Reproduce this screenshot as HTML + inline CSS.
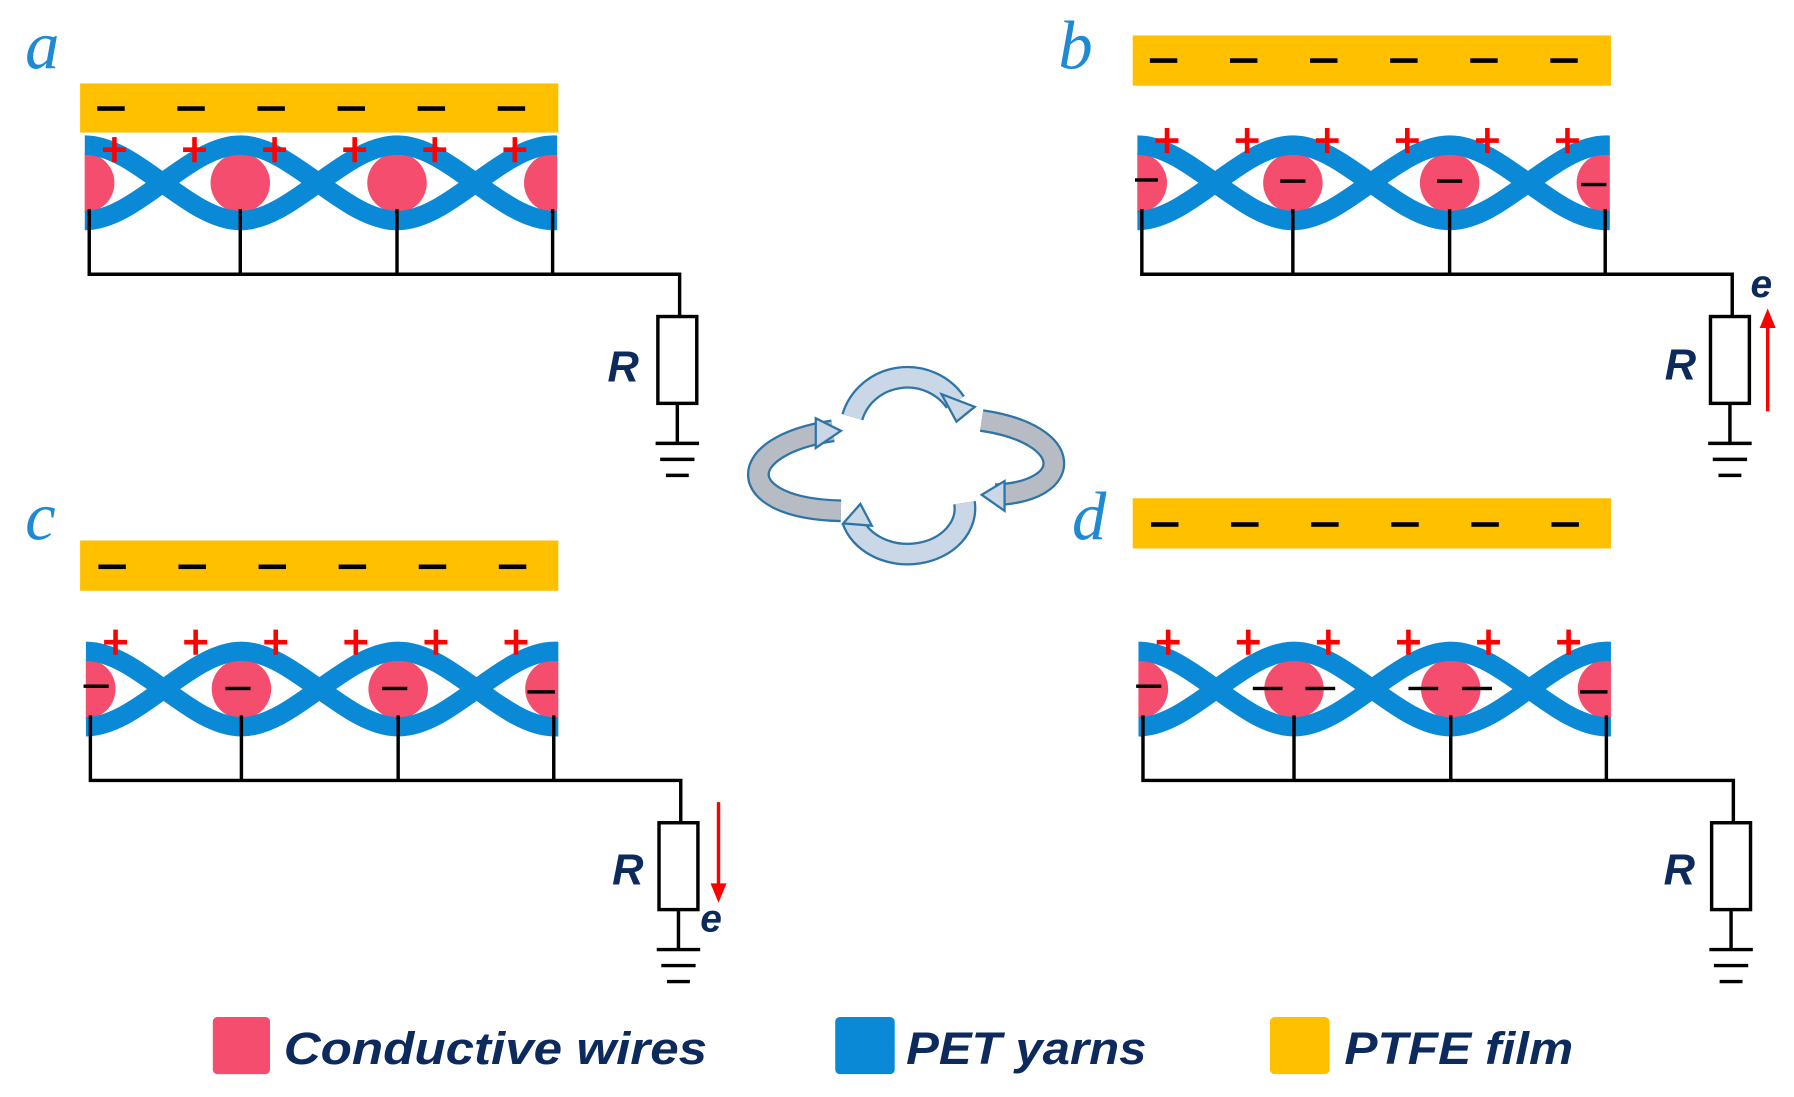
<!DOCTYPE html>
<html><head><meta charset="utf-8"><style>html,body{margin:0;padding:0;background:#fff}svg{display:block}</style></head>
<body>
<svg width="1794" height="1097" viewBox="0 0 1568 960" preserveAspectRatio="none" xmlns="http://www.w3.org/2000/svg">
<defs>
<g id="weave">
  <clipPath id="cp"><rect x="74" y="100" width="413" height="120"/></clipPath>
  <g clip-path="url(#cp)">
    <circle cx="74" cy="160" r="26" fill="#f44d6d"/>
    <circle cx="210" cy="160" r="26" fill="#f44d6d"/>
    <circle cx="347" cy="160" r="26" fill="#f44d6d"/>
    <circle cx="484" cy="160" r="26" fill="#f44d6d"/>
    <path d="M74,127 C119,127 165,193 210,193 S301,127 347,127 S438,193 484,193 S560,127 600,127" fill="none" stroke="#0a8ad6" stroke-width="17"/>
    <path d="M74,193 C119,193 165,127 210,127 S301,193 347,193 S438,127 484,127 S560,193 600,193" fill="none" stroke="#0a8ad6" stroke-width="17"/>
  </g>
  <g stroke="#000" stroke-width="3" fill="none">
    <path d="M78,183 V240 H594 V277 M210,183 V240 M347,183 V240 M483,183 V240"/>
    <rect x="575" y="277" width="34" height="76" fill="#fff"/>
    <path d="M592,353 V388 M573,388 H611 M577,402 H607 M582,416 H602"/>
  </g>
</g>
<g id="minus"><g fill="#000">
  <rect x="85" y="93" width="24" height="4"/><rect x="155" y="93" width="24" height="4"/><rect x="225" y="93" width="24" height="4"/>
  <rect x="295" y="93" width="24" height="4"/><rect x="365" y="93" width="24" height="4"/><rect x="435" y="93" width="24" height="4"/></g></g>
<g id="plus" fill="#f00">
  <path id="p1" d="M90,129 h20 v4 h-20z M98,120 h4 v22 h-4z"/>
  <use href="#p1" x="70"/><use href="#p1" x="140"/><use href="#p1" x="210"/><use href="#p1" x="280"/><use href="#p1" x="350"/>
</g>
</defs>

<rect x="70" y="73" width="418" height="43" fill="#ffc000"/>
<use href="#minus"/>
<use href="#weave"/>
<use href="#plus" y="0"/>
<g transform="translate(920,0)">
<rect x="70" y="31" width="418" height="44" fill="#ffc000"/>
<use href="#minus" y="-42"/>
<use href="#weave"/>
<use href="#plus" y="-8"/>
<g fill="#000"><rect x="72" y="156" width="20" height="3"/><rect x="199" y="157" width="22" height="3"/><rect x="336" y="157" width="22" height="3"/><rect x="462" y="160" width="22" height="3"/></g>
</g>
<g transform="translate(1,443)">
<rect x="69" y="30" width="418" height="44" fill="#ffc000"/>
<use href="#minus" y="-42"/>
<use href="#weave"/>
<use href="#plus" y="-12"/>
<g fill="#000"><rect x="72" y="156" width="22" height="3"/><rect x="196" y="158" width="22" height="3"/><rect x="333" y="158" width="22" height="3"/><rect x="460" y="161" width="24" height="3"/></g>
</g>
<g transform="translate(921,443)">
<rect x="69" y="-7" width="418" height="44" fill="#ffc000"/>
<use href="#minus" y="-79"/>
<use href="#weave"/>
<use href="#plus" y="-12"/>
<g fill="#000"><rect x="72" y="156" width="22" height="3"/><rect x="174" y="158" width="26" height="3"/><rect x="220" y="158" width="26" height="3"/><rect x="310" y="158" width="26" height="3"/><rect x="357" y="158" width="26" height="3"/><rect x="460" y="161" width="24" height="3"/></g>
</g>

<g font-family="Liberation Sans, sans-serif" font-weight="bold" font-style="italic" fill="#0d2a5c" font-size="38">
<text x="531" y="334">R</text><text x="1455" y="332">R</text><text x="535" y="774">R</text><text x="1454" y="774">R</text>
<text x="1530" y="260" font-size="34">e</text><text x="612" y="815" font-size="34">e</text>
</g>
<g stroke="#f00" stroke-width="3" fill="#f00">
<line x1="1545" y1="360" x2="1545" y2="285"/><path d="M1538,287 L1545,270 L1552,287z" stroke="none"/>
<line x1="628" y1="702" x2="628" y2="775"/><path d="M621,773 L628,790 L635,773z" stroke="none"/>
</g>

<g font-family="Liberation Serif, serif" font-style="italic" fill="#1e8ad4" font-size="60">
<text x="22" y="60">a</text><text x="925" y="60">b</text><text x="22" y="472">c</text><text x="937" y="472">d</text>
</g>

<g fill="none" stroke-linecap="butt">
<g stroke="#2e75a6" stroke-width="20">
<path d="M745,365 A50,48 0 0 1 835,352"/>
<path d="M728,377 C640,390 640,445 735,447"/>
<path d="M858,368 C940,380 940,430 870,433"/>
<path d="M745,455 A50,40 0 0 0 843,440"/>
</g>
<g stroke-width="16">
<path d="M745,365 A50,48 0 0 1 835,352" stroke="#c9d7e6"/>
<path d="M728,377 C640,390 640,445 735,447" stroke="#b7bcc4"/>
<path d="M858,368 C940,380 940,430 870,433" stroke="#b7bcc4"/>
<path d="M745,455 A50,40 0 0 0 843,440" stroke="#c9d7e6"/>
</g>
</g>
<g fill="#c9d7e6" stroke="#2e75a6" stroke-width="2">
<path d="M823,345 L852,356 L836,369z"/>
<path d="M713,366 L735,377 L713,392z"/>
<path d="M878,421 L858,433 L878,447z"/>
<path d="M737,458 L752,441 L762,460z"/>
</g>

<rect x="186" y="890" width="50" height="50" rx="4" fill="#f44d6d"/>
<rect x="730" y="890" width="52" height="50" rx="4" fill="#0a8ad6"/>
<rect x="1110" y="890" width="52" height="50" rx="4" fill="#ffc000"/>
<g font-family="Liberation Sans, sans-serif" font-weight="bold" font-style="italic" fill="#0d2a5c" font-size="40">
<text x="248" y="931" textLength="370" lengthAdjust="spacingAndGlyphs">Conductive wires</text>
<text x="792" y="931" textLength="210" lengthAdjust="spacingAndGlyphs">PET yarns</text>
<text x="1175" y="931" textLength="200" lengthAdjust="spacingAndGlyphs">PTFE film</text>
</g>
</svg>
</body></html>
